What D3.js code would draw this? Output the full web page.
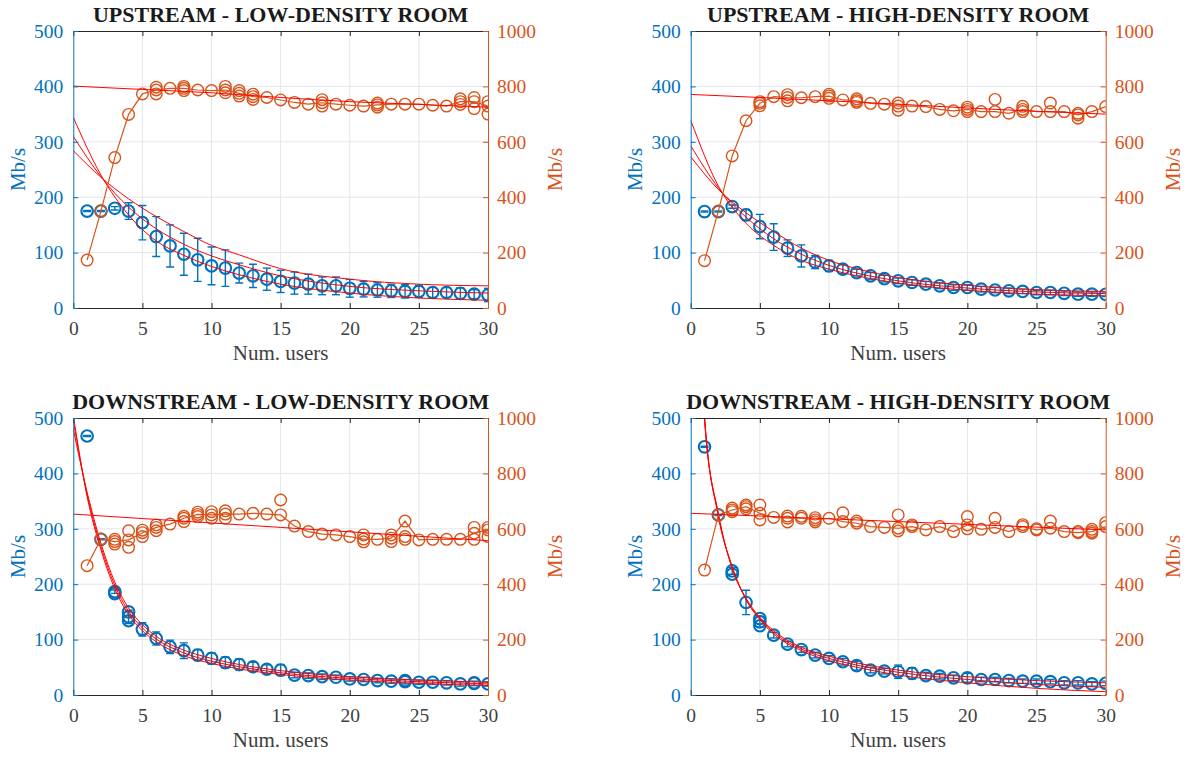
<!DOCTYPE html>
<html>
<head>
<meta charset="utf-8">
<script src="https://cdn.jsdelivr.net/npm/d3@7"></script>
<style>
  body { margin: 0; background: #fff; }
  svg { display: block; }
  svg text { font-family: "Liberation Serif", "Times New Roman", Times, serif !important; }
</style>
</head>
<body>
<div id="chart"></div>
<script>
// ---- data ----
var users = d3.range(1, 31);
var xTicks = [0, 5, 10, 15, 20, 25, 30];
var leftTicks = [0, 100, 200, 300, 400, 500];
var rightTicks = [0, 200, 400, 600, 800, 1000];

// upstream, low density
var upLowBlue = [175,175,180,175,154,129,112,97,87,76,72,63,58,52,48,45,43,40,40,35.5,34,32.5,31,30,30,28,28,26.5,25,23.5];
var upLowErr = [1,1,3,15,31,36,38,38,39,34,33,18,21,20,20,20,18,16,16,16,14,13,12,12,11,9,9,10,8,12];
var upLowBlueExtra = [];
var upLowOrange = [173,350,543,699,773,787,793,793,787,785,787,775,763,760,751,742,736,741,736,732,729,733,736,736,736,732,729,745,745,729];
var upLowOrangeExtra = [[6,797],[6,773],[8,800],[8,785],[11,800],[11,777],[12,785],[12,765],[13,772],[13,753],[18,752],[18,729],[22,740],[22,725],[28,755],[28,735],[29,760],[29,720],[30,745],[30,700]];
var upLowFitX = [0,2,4,6,8,10,12,15,20,25,30];
var upLowFits = [
  [344,240,168,121,95,75,60,43,27,18,14],
  [310,237,182,143,115,94,78,58,39,31,27],
  [284,236,197,165,138,113,96,71,52,43,40]
];
var orangeFitX = [0,5,10,15,20,25,30];
var upLowOrangeFit = [801,789,777,760,745,735,725];

// upstream, high density
var upHighBlue = [174,174,183,168,147,128,108,94,83,76,70,64,58,53,49,46,43,40,37,37,34,32.5,31,30,28,28,26.5,25,25,24.7];
var upHighErr = [1,1,3,10,22,24,15,20,12,10,8,6,6,6,5,5,5,5,5,5,5,5,5,4,4,4,4,4,4,4];
var upHighBlueExtra = [];
var upHighOrange = [171,350,549,676,739,763,760,759,763,765,751,748,739,736,729,729,727,717,712,717,709,709,703,717,709,709,709,697,709,727];
var upHighOrangeExtra = [[5,745],[5,730],[7,770],[7,748],[10,772],[10,757],[12,755],[12,742],[15,740],[15,714],[20,725],[20,709],[22,753],[24,728],[24,709],[26,740],[28,703],[28,685]];
var upHighFitX = [0,2,4,6,8,10,12,15,20,25,30];
var upHighFits = [
  [339,220,153,113,86,70,58,45,32,25,22],
  [293,217,164,125,97,77,63,49,36,29,26],
  [273,214,172,138,108,86,71,55,41,33,30]
];
var upHighOrangeFit = [771,760,748,736,722,710,700];

// downstream, low density
var downLowBlue = [467.5,281,186.5,141,118.5,102,87,80,72,66,58.5,55,51,46.5,45,36,35,33,32,29,28,26,25,24,23,23,22,20,21,20];
var downLowErr = [1,1,3,12,12,12,12,14,10,10,10,10,8,8,10,5,5,5,4,4,4,4,4,4,4,4,4,4,4,4];
var downLowBlueExtra = [[3,183],[4,150],[4,134],[24,26],[29,22]];
var downLowOrange = [467,563,554,560,586,605,617,638,652,650,653,653,656,653,650,610,590,581,578,572,563,562,566,628,560,562,562,562,584,596];
var downLowOrangeExtra = [[3,562],[3,545],[4,593],[4,533],[5,595],[5,572],[6,614],[6,593],[8,645],[8,626],[9,660],[9,644],[10,662],[10,638],[11,665],[11,638],[15,704],[21,578],[21,553],[23,578],[23,554],[24,572],[24,562],[29,605],[29,562],[30,605],[30,572]];
var downLowFitX = [0,1,2,3,4,5,6,8,10,12,15,20,25,30];
var downLowFits = [
  [505,358,262,192,145,116,96,71,57,47,37,27,21,17],
  [495,362,268,198,151,121,101,76,61,51,40,30,24,20],
  [480,366,274,204,157,127,106,81,66,55,44,33,27,23]
];
var downLowOrangeFit = [653,637,621,605,589,573,557];

// downstream, high density
var downHighBlue = [448,325,224,167,132,108,92,82,72,66,60,53,45,43,42,39,35,34,31,31,28,28,26,25,25,24,22,22,20,21];
var downHighErr = [1,1,6,22,10,5,5,5,5,5,6,8,5,5,12,10,6,5,5,8,4,4,4,4,4,4,4,4,4,4];
var downHighBlueExtra = [[3,218],[5,138],[5,125]];
var downHighOrange = [451,650,668,680,656,641,638,638,632,638,626,620,608,605,602,608,596,608,590,614,598,605,590,608,596,602,590,586,590,608];
var downHighOrangeExtra = [[3,675],[3,662],[4,686],[4,672],[5,686],[5,632],[7,646],[7,625],[8,645],[9,640],[9,625],[11,658],[12,628],[15,650],[15,592],[16,614],[20,644],[20,600],[22,638],[24,615],[25,600],[26,628],[28,590],[29,598],[29,584],[30,622]];
var downHighFitX = [0.5,1,2,3,4,5,6,8,10,12,15,20,25,30];
var downHighFits = [
  [980,505,322,232,172,136,110,80,62,50,36,22,12,6],
  [960,500,325,230,173,138,113,83,66,54,41,28,19,14],
  [940,495,328,228,175,140,116,86,70,58,45,33,26,22]
];
var downHighOrangeFit = [656,646,636,626,616,606,596];

var titles = ["UPSTREAM - LOW-DENSITY ROOM", "UPSTREAM - HIGH-DENSITY ROOM",
              "DOWNSTREAM - LOW-DENSITY ROOM", "DOWNSTREAM - HIGH-DENSITY ROOM"];

// ---- layout ----
var BLUE = "#0072BD", ORANGE = "#D95319", RED = "#FF0000", DARK = "#262626";

var panels = [
  {title: titles[0], left: 73.3, right: 488, top: 31, bottom: 308,
   blue: upLowBlue, err: upLowErr, blueExtra: upLowBlueExtra, orange: upLowOrange, orangeExtra: upLowOrangeExtra,
   fitX: upLowFitX, fits: upLowFits, orangeFit: upLowOrangeFit},
  {title: titles[1], left: 690.7, right: 1105.7, top: 31, bottom: 308,
   blue: upHighBlue, err: upHighErr, blueExtra: upHighBlueExtra, orange: upHighOrange, orangeExtra: upHighOrangeExtra,
   fitX: upHighFitX, fits: upHighFits, orangeFit: upHighOrangeFit},
  {title: titles[2], left: 73.3, right: 488, top: 418, bottom: 695,
   blue: downLowBlue, err: downLowErr, blueExtra: downLowBlueExtra, orange: downLowOrange, orangeExtra: downLowOrangeExtra,
   fitX: downLowFitX, fits: downLowFits, orangeFit: downLowOrangeFit},
  {title: titles[3], left: 690.7, right: 1105.7, top: 418, bottom: 695,
   blue: downHighBlue, err: downHighErr, blueExtra: downHighBlueExtra, orange: downHighOrange, orangeExtra: downHighOrangeExtra,
   fitX: downHighFitX, fits: downHighFits, orangeFit: downHighOrangeFit}
];

var svg = d3.select("#chart").append("svg")
    .attr("width", 1189)
    .attr("height", 758);

panels.forEach(drawPanel);

function drawPanel(p, k) {
    var x = d3.scaleLinear().domain([0, 30]).range([p.left, p.right]);
    var yL = d3.scaleLinear().domain([0, 500]).range([p.bottom, p.top]);
    var yR = d3.scaleLinear().domain([0, 1000]).range([p.bottom, p.top]);
    var cx = (p.left + p.right) / 2;

    var g = svg.append("g");

    g.append("clipPath").attr("id", "clip" + k)
      .append("rect")
        .attr("x", p.left).attr("y", p.top)
        .attr("width", p.right - p.left).attr("height", p.bottom - p.top);

    // grid
    var grid = g.append("g").attr("stroke", "#e2e5ec").attr("stroke-width", 1);
    xTicks.slice(1, -1).forEach(function (t) {
        grid.append("line").attr("x1", x(t)).attr("x2", x(t)).attr("y1", p.top).attr("y2", p.bottom);
    });
    leftTicks.slice(1, -1).forEach(function (t) {
        grid.append("line").attr("x1", p.left).attr("x2", p.right).attr("y1", yL(t)).attr("y2", yL(t));
    });

    var plot = g.append("g").attr("clip-path", "url(#clip" + k + ")");

    // blue error bars
    var eb = plot.append("g").attr("stroke", BLUE).attr("stroke-width", 1.4);
    users.forEach(function (u, i) {
        var m = p.blue[i], e = p.err[i];
        var xp = x(u);
        eb.append("line").attr("x1", xp).attr("x2", xp).attr("y1", yL(m - e)).attr("y2", yL(m + e));
        eb.append("line").attr("x1", xp - 4).attr("x2", xp + 4).attr("y1", yL(m - e)).attr("y2", yL(m - e));
        eb.append("line").attr("x1", xp - 4).attr("x2", xp + 4).attr("y1", yL(m + e)).attr("y2", yL(m + e));
    });

    // blue circles
    var bc = plot.append("g").attr("fill", "none").attr("stroke", BLUE).attr("stroke-width", 2.1);
    bc.selectAll("circle.m").data(p.blue).enter().append("circle")
        .attr("cx", function (d, i) { return x(users[i]); })
        .attr("cy", function (d) { return yL(d); })
        .attr("r", 5.8);
    bc.selectAll("circle.x").data(p.blueExtra).enter().append("circle")
        .attr("cx", function (d) { return x(d[0]); })
        .attr("cy", function (d) { return yL(d[1]); })
        .attr("r", 5.8);

    // red fits on left axis
    var fitLine = d3.line()
        .x(function (d, i) { return x(p.fitX[i]); })
        .y(function (d) { return yL(d); })
        .curve(d3.curveMonotoneX);
    p.fits.forEach(function (f) {
        plot.append("path").attr("d", fitLine(f))
            .attr("fill", "none").attr("stroke", RED).attr("stroke-width", 1);
    });

    // orange series
    var oLine = d3.line()
        .x(function (d, i) { return x(users[i]); })
        .y(function (d) { return yR(d); });
    plot.append("path").attr("d", oLine(p.orange))
        .attr("fill", "none").attr("stroke", ORANGE).attr("stroke-width", 1.2);
    var oc = plot.append("g").attr("fill", "none").attr("stroke", ORANGE).attr("stroke-width", 1.4);
    oc.selectAll("circle.x").data(p.orangeExtra).enter().append("circle")
        .attr("cx", function (d) { return x(d[0]); })
        .attr("cy", function (d) { return yR(d[1]); })
        .attr("r", 5.8);
    oc.selectAll("circle.m").data(p.orange).enter().append("circle")
        .attr("cx", function (d, i) { return x(users[i]); })
        .attr("cy", function (d) { return yR(d); })
        .attr("r", 5.8);

    var oFit = d3.line()
        .x(function (d, i) { return x(orangeFitX[i]); })
        .y(function (d) { return yR(d); })
        .curve(d3.curveMonotoneX);
    plot.append("path").attr("d", oFit(p.orangeFit))
        .attr("fill", "none").attr("stroke", RED).attr("stroke-width", 1);

    // axes
    var ax = g.append("g").attr("class", "axes");
    var fmt = d3.format("d");

    var bottom = ax.append("g").attr("transform", "translate(0," + p.bottom + ")")
        .call(d3.axisBottom(x).tickValues(xTicks).tickSize(-5).tickSizeOuter(0).tickPadding(13).tickFormat(fmt));
    var top = ax.append("g").attr("transform", "translate(0," + p.top + ")")
        .call(d3.axisTop(x).tickValues(xTicks).tickSize(-5).tickSizeOuter(0).tickFormat(""));
    [bottom, top].forEach(function (a) {
        a.selectAll("path, line").attr("stroke", DARK);
        a.selectAll("text").attr("fill", "#404040");
    });

    var left = ax.append("g").attr("transform", "translate(" + p.left + ",0)")
        .call(d3.axisLeft(yL).tickValues(leftTicks).tickSize(-5).tickSizeOuter(0).tickPadding(10).tickFormat(fmt));
    left.selectAll("path, line").attr("stroke", BLUE);
    left.selectAll("text").attr("fill", BLUE);

    var right = ax.append("g").attr("transform", "translate(" + p.right + ",0)")
        .call(d3.axisRight(yR).tickValues(rightTicks).tickSize(-5).tickSizeOuter(0).tickPadding(9).tickFormat(fmt));
    right.selectAll("path, line").attr("stroke", ORANGE);
    right.selectAll("text").attr("fill", ORANGE);

    ax.selectAll("g").attr("font-family", null).attr("font-size", 19.5);

    // labels
    g.append("text")
        .attr("x", cx).attr("y", p.top - 9)
        .attr("text-anchor", "middle")
        .attr("font-weight", "bold").attr("font-size", 22)
        .attr("fill", "#1a1a1a")
        .text(p.title);

    g.append("text")
        .attr("x", cx).attr("y", p.bottom + 52)
        .attr("text-anchor", "middle")
        .attr("font-size", 21)
        .attr("fill", "#404040")
        .text("Num. users");

    var midY = (p.top + p.bottom) / 2;
    g.append("text")
        .attr("transform", "translate(" + (p.left - 56) + "," + midY + ") rotate(-90)")
        .attr("text-anchor", "middle")
        .attr("dy", "0.35em")
        .attr("font-size", 21)
        .attr("fill", BLUE)
        .text("Mb/s");
    g.append("text")
        .attr("transform", "translate(" + (p.right + 67) + "," + midY + ") rotate(-90)")
        .attr("text-anchor", "middle")
        .attr("dy", "0.35em")
        .attr("font-size", 21)
        .attr("fill", ORANGE)
        .text("Mb/s");
}
</script>
</body>
</html>
